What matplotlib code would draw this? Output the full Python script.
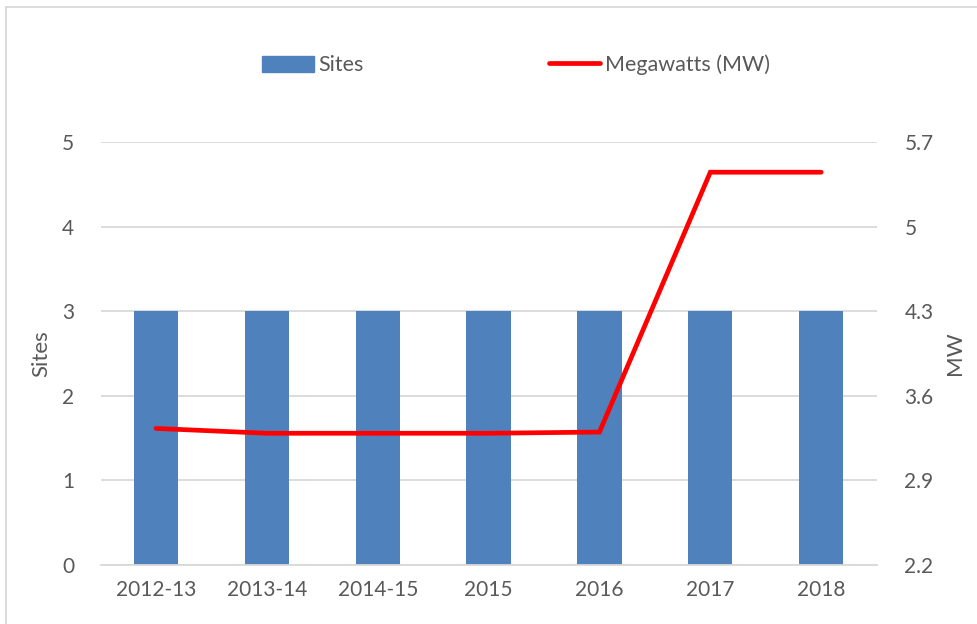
import matplotlib
matplotlib.use("Agg")
import matplotlib.pyplot as plt
from matplotlib.lines import Line2D
import numpy as np

categories = ["2012-13", "2013-14", "2014-15", "2015", "2016", "2017", "2018"]
sites = [3, 3, 3, 3, 3, 3, 3]
megawatts = [3.33, 3.29, 3.29, 3.29, 3.30, 5.45, 5.45]
left_ticks = [0, 1, 2, 3, 4, 5]
right_ticks = [2.2, 2.9, 3.6, 4.3, 5, 5.7]
right_tick_labels = ["2.2", "2.9", "3.6", "4.3", "5", "5.7"]

plt.rcParams['font.family'] = ['Lato', 'DejaVu Sans']
text_color = "#595959"
grid_color = "#d9d9d9"
fs = 15

fig = plt.figure(figsize=(9.77, 6.24), dpi=100)
ax = fig.add_axes([100.6/977, 59/624, 776/977, 423/624])
x = np.arange(len(categories))
ax.bar(x, sites, width=0.4, color="#4F81BD", zorder=2, label="Sites")
ax.set_xlim(-0.5, len(categories) - 0.5)
ax.set_ylim(0, 5)
ax.set_yticks(left_ticks)
ax.set_xticks(x)
ax.set_xticklabels(categories)
ax.yaxis.grid(True, color=grid_color, linewidth=1.3, zorder=0)
ax.set_axisbelow(True)
for s in ["top", "right", "left"]:
    ax.spines[s].set_visible(False)
ax.spines["bottom"].set_color(grid_color)
ax.spines["bottom"].set_linewidth(1.3)
ax.tick_params(axis="both", length=0, labelsize=fs, colors=text_color)
ax.tick_params(axis="x", pad=11)
ax.tick_params(axis="y", pad=19)
ax.set_ylabel("Sites", fontsize=16, color=text_color, labelpad=8)

ax2 = ax.twinx()
ax2.plot(x, megawatts, color="#FF0000", linewidth=3.4, solid_capstyle="round",
         solid_joinstyle="miter", zorder=3)
ax2.set_ylim(2.2, 5.7)
ax2.set_yticks(right_ticks)
ax2.set_yticklabels(right_tick_labels)
for s in ["top", "right", "left", "bottom"]:
    ax2.spines[s].set_visible(False)
ax2.tick_params(axis="y", length=0, labelsize=fs, colors=text_color, pad=20)
ax2.set_ylabel("MW", fontsize=16, color=text_color, labelpad=8)

handles = [plt.Rectangle((0, 0), 1, 1, color="#4F81BD"),
           Line2D([0], [0], color="#FF0000", linewidth=3.4, solid_capstyle="round")]
fig.legend(handles, ["Sites", "Megawatts (MW)"], loc="center",
           bbox_to_anchor=(516/977, 1 - 65/624), ncol=2, frameon=False,
           prop={'size': 15.5}, labelcolor=text_color, handlelength=2.4,
           handletextpad=0.2, columnspacing=8.6, handleheight=0.8)

fig.add_artist(Line2D([6/977, 1], [1 - 7/624, 1 - 7/624], transform=fig.transFigure,
                      color=grid_color, linewidth=1.3))
fig.add_artist(Line2D([6/977, 6/977], [0, 1 - 7/624], transform=fig.transFigure,
                      color=grid_color, linewidth=1.3))

fig.savefig("out.png", dpi=100)
